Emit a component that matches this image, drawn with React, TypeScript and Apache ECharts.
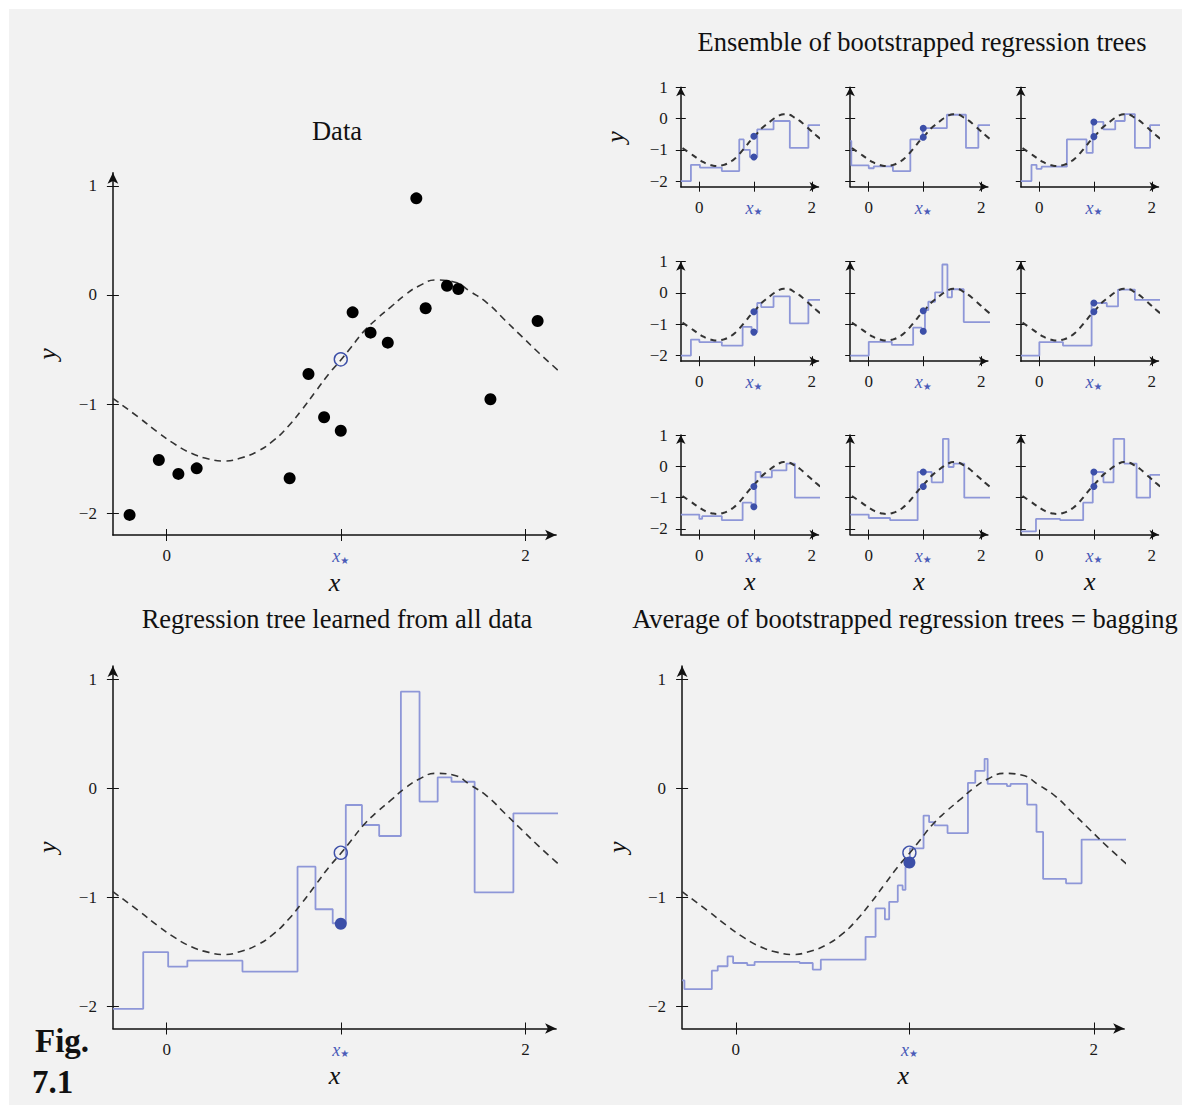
import React, { useEffect, useRef } from "react";
import * as echarts from "echarts";

// ---------- data ----------
const X_STAR = 0.97;
const X_TICKS = [0, X_STAR, 2];
const Y_TICKS = [-2, -1, 0, 1];

// true function (dashed)
const TRUE_X = [-0.3, -0.15, -0.054, 0.052, 0.138, 0.234, 0.32, 0.407, 0.503, 0.599, 0.675, 0.752, 0.829, 0.906, 0.967, 1.03, 1.097, 1.174, 1.251, 1.328, 1.405, 1.5, 1.596, 1.693, 1.788, 1.884, 1.98, 2.076, 2.2];
const TRUE_Y = [-0.947, -1.13, -1.253, -1.375, -1.451, -1.503, -1.522, -1.497, -1.436, -1.329, -1.207, -1.054, -0.886, -0.718, -0.602, -0.474, -0.336, -0.214, -0.107, 0.0, 0.082, 0.137, 0.122, 0.03, -0.076, -0.229, -0.382, -0.534, -0.718];
const TRUE_AT_XSTAR = -0.59;

// training data
const DATA_X = [-0.207, -0.044, 0.065, 0.167, 0.685, 0.79, 0.877, 0.97, 1.036, 1.136, 1.232, 1.391, 1.443, 1.562, 1.625, 1.804, 2.067];
const DATA_Y = [-2.016, -1.512, -1.64, -1.589, -1.68, -0.724, -1.121, -1.244, -0.159, -0.345, -0.437, 0.886, -0.122, 0.085, 0.055, -0.956, -0.238];

// regression tree learned from all data (breakpoints / levels)
const TREE_X = [-0.3, -0.131, 0.008, 0.115, 0.422, 0.729, 0.829, 0.925, 0.998, 1.088, 1.184, 1.305, 1.409, 1.51, 1.587, 1.716, 1.932];
const TREE_Y = [-2.02, -1.5, -1.634, -1.579, -1.679, -0.718, -1.108, -1.236, -0.153, -0.336, -0.437, 0.885, -0.122, 0.1, 0.06, -0.953, -0.229];
const TREE_AT_XSTAR = -1.24;

// bagging average
const BAG_X = [-0.3, -0.287, -0.134, -0.101, -0.046, -0.015, 0.064, 0.105, 0.357, 0.43, 0.475, 0.725, 0.781, 0.833, 0.857, 0.905, 0.932, 0.948, 0.973, 1.049, 1.08, 1.111, 1.183, 1.297, 1.338, 1.39, 1.407, 1.515, 1.535, 1.628, 1.68, 1.717, 1.845, 1.932];
const BAG_Y = [-1.76, -1.84, -1.67, -1.63, -1.54, -1.6, -1.62, -1.59, -1.6, -1.66, -1.57, -1.36, -1.1, -1.2, -1.04, -0.89, -0.93, -0.72, -0.55, -0.25, -0.31, -0.34, -0.41, 0.05, 0.16, 0.27, 0.04, 0.02, 0.04, -0.15, -0.4, -0.83, -0.87, -0.47];
const BAG_AT_XSTAR = -0.68;

// ensemble of 9 bootstrapped trees (row-major)
const ENSEMBLE_TREE_X = [
  [-0.33, -0.15, 0.01, 0.4, 0.71, 0.79, 0.9, 1.03, 1.32, 1.61, 1.94],
  [-0.33, -0.31, 0.0, 0.09, 0.43, 0.74, 0.96, 1.39, 1.73, 1.95],
  [-0.33, -0.14, -0.05, 0.04, 0.49, 0.84, 0.95, 1.14, 1.35, 1.52, 1.7, 1.97],
  [-0.33, -0.15, 0.0, 0.4, 0.77, 0.93, 1.03, 1.1, 1.32, 1.61, 1.94],
  [-0.33, 0.0, 0.41, 0.79, 0.94, 1.0, 1.06, 1.18, 1.31, 1.4, 1.48, 1.69],
  [-0.33, 0.0, 0.42, 0.93, 1.2, 1.4, 1.7],
  [-0.33, 0.0, 0.05, 0.4, 0.77, 0.93, 1.0, 1.09, 1.29, 1.55, 1.7],
  [-0.33, 0.0, 0.38, 0.87, 1.12, 1.32, 1.42, 1.51, 1.7],
  [-0.33, -0.06, 0.37, 0.78, 0.95, 1.14, 1.32, 1.51, 1.73, 1.97],
];
const ENSEMBLE_TREE_Y = [
  [-2.0, -1.48, -1.57, -1.68, -0.67, -1.0, -1.23, -0.35, -0.08, -0.94, -0.21],
  [-0.72, -1.5, -1.59, -1.53, -1.68, -0.67, -0.31, 0.12, -0.94, -0.21],
  [-2.0, -1.48, -1.61, -1.54, -0.67, -1.1, -0.11, -0.35, -0.08, 0.14, -0.94, -0.21],
  [-2.0, -1.49, -1.57, -1.68, -1.08, -1.25, -0.32, -0.45, -0.11, -0.97, -0.22],
  [-2.0, -1.56, -1.66, -1.11, -1.22, -0.55, -0.28, 0.02, 0.91, -0.14, 0.12, -0.93],
  [-2.0, -1.57, -1.68, -0.32, -0.43, 0.11, -0.22],
  [-1.54, -1.68, -1.59, -1.72, -1.16, -1.29, -0.18, -0.35, -0.13, 0.09, -1.0],
  [-1.54, -1.65, -1.72, -0.18, -0.51, 0.88, -0.02, 0.09, -1.0],
  [-2.08, -1.68, -1.72, -1.16, -0.18, -0.51, 0.88, 0.09, -1.0, -0.27],
];
const ENSEMBLE_DOTS = [
  [-0.57, -1.23], [-0.31, -0.6], [-0.11, -0.58],
  [-0.6, -1.25], [-0.57, -1.22], [-0.32, -0.6],
  [-0.64, -1.29], [-0.18, -0.64], [-0.18, -0.64],
];
const LINE_END = 2.2;

// ---------- style ----------
const FONT = "'Liberation Serif', 'Times New Roman', serif";
const INK = "#111111";
const TREE_BLUE = "#8e97d8";
const DOT_BLUE = "#3c4fa8";
const STAR_BLUE = "#4a5bb8";

type Panel = {
  left: number; top: number; width: number; height: number;
  xMin: number; xMax: number; yMin: number; yMax: number;
  small: boolean; yLabels: boolean; xName: boolean; yName: boolean;
};

const fmtNum = (v: number) => (v < 0 ? "\u2212" + Math.abs(v) : String(v));
const zip = (xs: number[], ys: number[]) => xs.map((x, i) => [x, ys[i]]);
const steps = (xs: number[], ys: number[]) => zip(xs, ys).concat([[LINE_END, ys[ys.length - 1]]]);

function axesFor(p: Panel, gi: number) {
  const tick = p.small ? 5 : 6;
  const arrow = p.small ? [7, 9] : [8, 11];
  const lineStyle = { color: INK, width: 1.5 };
  const tickStyle = { color: INK, width: 1 };
  const common = { type: "value", gridIndex: gi, splitLine: { show: false } };
  const xBase = { ...common, min: p.xMin, max: p.xMax, position: "bottom" };
  const yBase = { ...common, min: p.yMin, max: p.yMax, position: "left" };
  const xs = [
    {
      ...xBase,
      axisLine: { show: true, onZero: false, symbol: ["none", "arrow"], symbolSize: arrow, lineStyle },
      axisTick: { show: true, inside: false, length: tick, customValues: X_TICKS, lineStyle: tickStyle },
      axisLabel: {
        show: true, customValues: X_TICKS, margin: 12, fontFamily: FONT, fontSize: 17, color: "#1a1a1a",
        formatter: (v: number) => (Math.abs(v - X_STAR) < 1e-6 ? "{x|x}{s|\u2605}" : fmtNum(v)),
        rich: {
          x: { fontFamily: FONT, fontStyle: "italic", fontSize: 18, color: STAR_BLUE },
          s: { fontFamily: "DejaVu Sans", fontSize: 10, color: STAR_BLUE, verticalAlign: "bottom" },
        },
      },
      name: p.xName ? "x" : "", nameLocation: "middle", nameGap: 34,
      nameTextStyle: { fontFamily: FONT, fontStyle: "italic", fontSize: 26, color: INK },
    },
    {
      ...xBase,
      axisLine: { show: false, onZero: false },
      axisTick: { show: true, inside: true, length: tick, customValues: X_TICKS, lineStyle: tickStyle },
      axisLabel: { show: false },
    },
  ];
  const ys = [
    {
      ...yBase,
      axisLine: { show: true, onZero: false, symbol: ["none", "arrow"], symbolSize: arrow, lineStyle },
      axisTick: { show: true, inside: false, length: tick, customValues: Y_TICKS, lineStyle: tickStyle },
      axisLabel: {
        show: p.yLabels, customValues: Y_TICKS, margin: p.small ? 13 : 16, fontFamily: FONT, fontSize: 17, color: "#1a1a1a",
        formatter: (v: number) => fmtNum(v),
      },
      name: p.yName ? "y" : "", nameLocation: "middle", nameGap: 52, nameRotate: 90,
      nameTextStyle: { fontFamily: FONT, fontStyle: "italic", fontSize: 26, color: INK },
    },
    {
      ...yBase,
      axisLine: { show: false, onZero: false },
      axisTick: { show: true, inside: true, length: tick, customValues: Y_TICKS, lineStyle: tickStyle },
      axisLabel: { show: false },
    },
  ];
  return { xs, ys };
}

function dashed(gi: number, small: boolean) {
  return {
    type: "line", xAxisIndex: 2 * gi, yAxisIndex: 2 * gi, data: zip(TRUE_X, TRUE_Y),
    smooth: true, symbol: "none", clip: false, silent: true, z: 4,
    lineStyle: { color: "#333", width: small ? 2 : 1.6, type: small ? [6, 5] : [7, 5] },
  };
}
function stepLine(gi: number, xs: number[], ys: number[]) {
  return {
    type: "line", xAxisIndex: 2 * gi, yAxisIndex: 2 * gi, data: steps(xs, ys), step: "end",
    symbol: "none", clip: false, silent: true, z: 3,
    lineStyle: { color: TREE_BLUE, width: 1.8 },
  };
}
function dots(gi: number, pts: number[][], size: number, color: string, z = 5) {
  return {
    type: "scatter", xAxisIndex: 2 * gi, yAxisIndex: 2 * gi, data: pts, symbolSize: size,
    silent: true, clip: false, z, itemStyle: { color, opacity: 1 },
  };
}
function openCircle(gi: number, y: number) {
  return {
    type: "scatter", xAxisIndex: 2 * gi, yAxisIndex: 2 * gi, data: [[X_STAR, y]], symbol: "circle", symbolSize: 13,
    silent: true, clip: false, z: 6, itemStyle: { color: "rgba(0,0,0,0)", borderColor: DOT_BLUE, borderWidth: 1.4, opacity: 1 },
  };
}

function buildOption() {
  const big = { xMin: -0.3, xMax: 2.17, yMin: -2.2, yMax: 1.12, small: false, yLabels: true, xName: true, yName: true };
  const panels: Panel[] = [
    { ...big, left: 112.9, top: 172.8, width: 443.2, height: 362.2 },
    { ...big, left: 112.9, top: 666.0, width: 443.2, height: 362.5 },
    { ...big, left: 682.1, top: 666.0, width: 442.1, height: 362.5 },
  ];
  const colLeft = [680.8, 850.2, 1020.8];
  const rowTop = [87.2, 261.7, 435.1];
  for (let r = 0; r < 3; r++) {
    for (let c = 0; c < 3; c++) {
      panels.push({
        left: colLeft[c], top: rowTop[r], width: 137.7, height: 99.5,
        xMin: -0.33, xMax: 2.12, yMin: -2.18, yMax: 1.0,
        small: true, yLabels: c === 0, xName: r === 2, yName: r === 0 && c === 0,
      });
    }
  }
  const grid: any[] = [];
  const xAxis: any[] = [];
  const yAxis: any[] = [];
  panels.forEach((p, gi) => {
    grid.push({ left: p.left, top: p.top, width: p.width, height: p.height, containLabel: false });
    const { xs, ys } = axesFor(p, gi);
    xAxis.push(...xs);
    yAxis.push(...ys);
  });

  const series: any[] = [];
  // Data panel
  series.push(dashed(0, false));
  series.push(dots(0, zip(DATA_X, DATA_Y), 12, "#000"));
  series.push(openCircle(0, TRUE_AT_XSTAR));
  // full tree
  series.push(stepLine(1, TREE_X, TREE_Y));
  series.push(dashed(1, false));
  series.push(dots(1, [[X_STAR, TREE_AT_XSTAR]], 12, DOT_BLUE));
  series.push(openCircle(1, TRUE_AT_XSTAR));
  // bagging
  series.push(stepLine(2, BAG_X, BAG_Y));
  series.push(dashed(2, false));
  series.push(dots(2, [[X_STAR, BAG_AT_XSTAR]], 12, DOT_BLUE));
  series.push(openCircle(2, TRUE_AT_XSTAR));
  // ensemble
  for (let k = 0; k < 9; k++) {
    const gi = 3 + k;
    series.push(stepLine(gi, ENSEMBLE_TREE_X[k], ENSEMBLE_TREE_Y[k]));
    series.push(dashed(gi, true));
    series.push(dots(gi, ENSEMBLE_DOTS[k].map((y) => [X_STAR, y]), 7, DOT_BLUE));
  }

  const title = (text: string, x: number, y: number) => ({
    type: "text", x, y, z: 10,
    style: { text, fontFamily: FONT, fontSize: 26.5, fill: INK, align: "center", verticalAlign: "middle" },
  });
  const graphic = [
    { type: "rect", shape: { x: 9, y: 9, width: 1173, height: 1096 }, style: { fill: "#f2f2f2" }, z: -100 },
    title("Data", 337, 131),
    title("Ensemble of bootstrapped regression trees", 922, 42),
    title("Regression tree learned from all data", 337, 619),
    title("Average of bootstrapped regression trees = bagging", 905, 619),
    { type: "text", x: 35, y: 1041, z: 10, style: { text: "Fig.", fontFamily: FONT, fontWeight: "bold", fontSize: 33, fill: INK, align: "left", verticalAlign: "middle" } },
    { type: "text", x: 32, y: 1082, z: 10, style: { text: "7.1", fontFamily: FONT, fontWeight: "bold", fontSize: 33, fill: INK, align: "left", verticalAlign: "middle" } },
  ];

  return { animation: false, grid, xAxis, yAxis, series, graphic };
}

export default function App() {
  const ref = useRef<HTMLDivElement>(null);
  useEffect(() => {
    if (!ref.current) return;
    const chart = echarts.init(ref.current, undefined, { renderer: "svg" });
    chart.setOption(buildOption() as any);
    return () => chart.dispose();
  }, []);
  return (
    <div
      ref={ref}
      style={{ position: "absolute", left: 0, top: 0, width: 1182, height: 1105, background: "#ffffff" }}
    />
  );
}
